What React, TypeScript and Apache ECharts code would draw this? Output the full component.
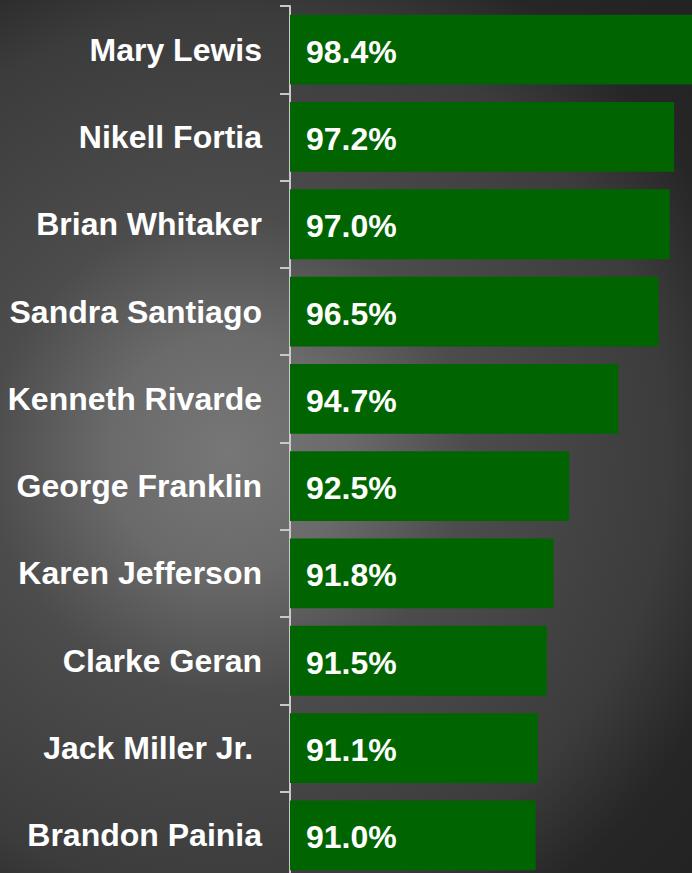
import React, { useEffect, useRef } from "react";
import * as echarts from "echarts";

const names: string[] = [
  "Mary Lewis",
  "Nikell Fortia",
  "Brian Whitaker",
  "Sandra Santiago",
  "Kenneth Rivarde",
  "George Franklin",
  "Karen Jefferson",
  "Clarke Geran",
  "Jack Miller Jr. ",
  "Brandon Painia",
];

const scores: number[] = [98.4, 97.2, 97.0, 96.5, 94.7, 92.5, 91.8, 91.5, 91.1, 91.0];

const FONT = "'Liberation Sans', Arial, sans-serif";

export default function App() {
  const ref = useRef<HTMLDivElement>(null);

  useEffect(() => {
    if (!ref.current) return;
    const chart = echarts.init(ref.current, undefined, { renderer: "svg" });
    chart.setOption({
      animation: false,
      backgroundColor: "transparent",
      grid: {
        left: 290,
        right: 0,
        top: 6,
        height: 873,
        containLabel: false,
        outerBoundsMode: "none",
      },
      xAxis: {
        type: "value",
        min: 80,
        max: 98,
        show: false,
        splitLine: { show: false },
      },
      yAxis: {
        type: "category",
        inverse: true,
        data: names,
        axisLine: { show: true, lineStyle: { color: "#c8c8c8", width: 2 } },
        axisTick: { show: true, length: 10, lineStyle: { color: "#c8c8c8", width: 2 } },
        axisLabel: {
          color: "#ffffff",
          fontSize: 32,
          fontWeight: "bold",
          fontFamily: FONT,
          margin: 28,
        },
        splitLine: { show: false },
      },
      series: [
        {
          type: "bar",
          data: scores,
          barCategoryGap: "20%",
          clip: true,
          itemStyle: { color: "#006400" },
          label: {
            show: true,
            position: "insideLeft",
            distance: 16,
            color: "#ffffff",
            fontSize: 32,
            fontWeight: "bold",
            fontFamily: FONT,
            offset: [0, 2],
            formatter: (p: any) => `${Number(p.value).toFixed(1)}%`,
          },
        },
      ],
    });
    return () => chart.dispose();
  }, []);

  return (
    <div
      style={{
        position: "absolute",
        left: 0,
        top: 0,
        width: 692,
        height: 873,
        overflow: "hidden",
        background:
          "radial-gradient(circle at 33% 52%, #777777 0px, #6a6a6a 120px, #4c4c4c 240px, #3c3c3c 440px, #262626 540px, #202020 720px)",
      }}
    >
      <div ref={ref} style={{ width: 692, height: 873 }} />
    </div>
  );
}
